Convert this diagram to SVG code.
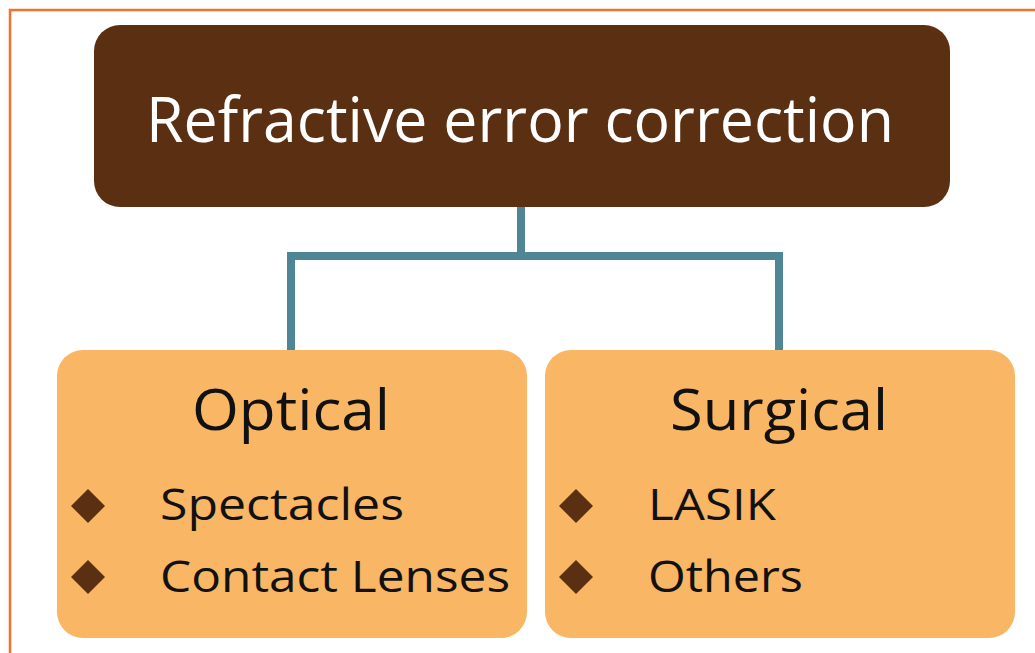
<svg xmlns="http://www.w3.org/2000/svg" width="1035" height="653" viewBox="0 0 1035 653">
  <style>
    .frame { fill: none; stroke: #F5712A; stroke-width: 2.5; }
    .root { fill: #5B2F12; }
    .branch { fill: #F9B664; }
    .link { fill: none; stroke: #4F8696; stroke-width: 8; stroke-linejoin: miter; }
    .title { font-family: "Open Sans", "Noto Sans", sans-serif; fill: #FFFFFF; }
    .head { font-family: "Open Sans", "Noto Sans", sans-serif; fill: #111111; }
    .item { font-family: "Open Sans", "Noto Sans", sans-serif; fill: #111111; }
    .bullet { fill: #5B2F12; }
  </style>
  <defs>
    <path id="diamond" d="M0,-17 L17,0 L0,17 L-17,0 Z"/>
  </defs>
  <rect width="1035" height="653" fill="#FFFFFF"/>
  <path class="frame" d="M10,660 L10,10 L1040,10"/>

  <g id="connectors">
    <path class="link" d="M521,206 L521,256"/>
    <path class="link" d="M291,352 L291,256 L779,256 L779,352"/>
  </g>

  <g id="node-root">
    <rect class="root" x="94" y="25" width="856" height="182" rx="26"/>
    <text class="title" x="520" y="142" font-size="62" text-anchor="middle" textLength="748" lengthAdjust="spacingAndGlyphs">Refractive error correction</text>
  </g>

  <g id="node-optical">
    <rect class="branch" x="57" y="350" width="470" height="288" rx="26"/>
    <text class="head" x="291" y="430" font-size="56" text-anchor="middle" textLength="198" lengthAdjust="spacingAndGlyphs">Optical</text>
    <use href="#diamond" class="bullet" x="88" y="506"/>
    <use href="#diamond" class="bullet" x="88" y="577"/>
    <text class="item" x="160" y="520" font-size="43" textLength="244" lengthAdjust="spacingAndGlyphs">Spectacles</text>
    <text class="item" x="160" y="592" font-size="43" textLength="350" lengthAdjust="spacingAndGlyphs">Contact Lenses</text>
  </g>

  <g id="node-surgical">
    <rect class="branch" x="545" y="350" width="470" height="288" rx="26"/>
    <text class="head" x="779" y="430" font-size="56" text-anchor="middle" textLength="218" lengthAdjust="spacingAndGlyphs">Surgical</text>
    <use href="#diamond" class="bullet" x="576" y="506"/>
    <use href="#diamond" class="bullet" x="576" y="577"/>
    <text class="item" x="648" y="520" font-size="43" textLength="128" lengthAdjust="spacingAndGlyphs">LASIK</text>
    <text class="item" x="648" y="592" font-size="43" textLength="155" lengthAdjust="spacingAndGlyphs">Others</text>
  </g>
</svg>
